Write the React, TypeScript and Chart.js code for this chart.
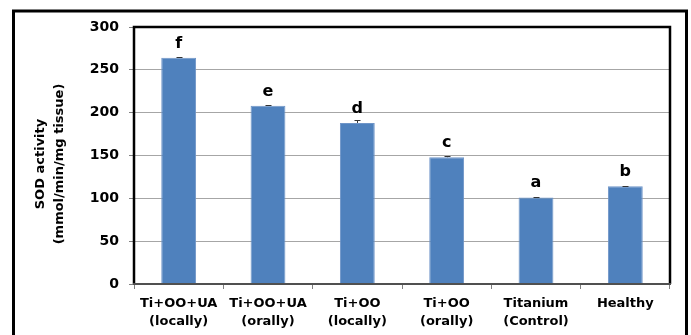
import React, { useEffect, useRef } from "react";
import { Chart, registerables } from "chart.js";

Chart.register(...registerables);

const categories: string[][] = [
  ["Ti+OO+UA", "(locally)"],
  ["Ti+OO+UA", "(orally)"],
  ["Ti+OO", "(locally)"],
  ["Ti+OO", "(orally)"],
  ["Titanium", "(Control)"],
  ["Healthy"],
];
const sodValues: number[] = [264, 208, 188, 148, 101, 114];
const sodErrors: number[] = [1.5, 1, 3, 1.5, 0.8, 0.8];
const letters: string[] = ["f", "e", "d", "c", "a", "b"];
const yTitleLines: string[] = ["SOD activity", "(mmol/min/mg tissue)"];
const yMin = 0;
const yMax = 300;
const yStep = 50;

const FONT = "'DejaVu Sans', sans-serif";

const decorPlugin = {
  id: "decor",
  beforeDraw(chart: any) {
    const ctx = chart.ctx;
    ctx.save();
    ctx.fillStyle = "#ffffff";
    ctx.fillRect(0, 0, chart.width, chart.height);
    ctx.restore();
  },
  afterDatasetsDraw(chart: any) {
    const ctx = chart.ctx;
    const meta = chart.getDatasetMeta(0);
    const y = chart.scales.y;
    ctx.save();
    // error bars
    ctx.strokeStyle = "#333333";
    ctx.lineWidth = 1;
    meta.data.forEach((bar: any, i: number) => {
      const v = sodValues[i];
      const e = sodErrors[i];
      const yt = Math.round(y.getPixelForValue(v + e)) + 0.5;
      const yb = y.getPixelForValue(v);
      const x = Math.round(bar.x) + 0.5;
      ctx.beginPath();
      ctx.moveTo(x, yb);
      ctx.lineTo(x, yt);
      ctx.moveTo(x - 3, yt);
      ctx.lineTo(x + 3, yt);
      ctx.stroke();
    });
    // letters
    ctx.fillStyle = "#000000";
    ctx.font = `bold 16px ${FONT}`;
    ctx.textAlign = "center";
    ctx.textBaseline = "alphabetic";
    meta.data.forEach((bar: any, i: number) => {
      const yt = y.getPixelForValue(sodValues[i]);
      ctx.fillText(letters[i], bar.x, yt - 10);
    });
    ctx.restore();
  },
  afterDraw(chart: any) {
    const ctx = chart.ctx;
    const a = chart.chartArea;
    ctx.save();
    // plot frame
    ctx.strokeStyle = "#000000";
    ctx.lineWidth = 2.5;
    ctx.beginPath();
    ctx.moveTo(a.left, a.bottom);
    ctx.lineTo(a.left, a.top);
    ctx.lineTo(a.right, a.top);
    ctx.lineTo(a.right, a.bottom);
    ctx.stroke();
    ctx.strokeStyle = "#505050";
    ctx.lineWidth = 2;
    ctx.beginPath();
    ctx.moveTo(a.left - 1, a.bottom);
    ctx.lineTo(a.right + 1, a.bottom);
    ctx.stroke();
    // outer frame
    ctx.strokeStyle = "#000000";
    ctx.lineWidth = 3;
    ctx.strokeRect(13.5, 11, 673, 340);
    // y title
    ctx.fillStyle = "#000000";
    ctx.font = `bold 13px ${FONT}`;
    ctx.textAlign = "center";
    ctx.textBaseline = "middle";
    const cy = 164;
    const xs = [41, 60];
    yTitleLines.forEach((t, i) => {
      ctx.save();
      ctx.translate(xs[i], cy);
      ctx.rotate(-Math.PI / 2);
      ctx.fillText(t, 0, 0);
      ctx.restore();
    });
    ctx.restore();
  },
};

export default function App() {
  const ref = useRef<HTMLCanvasElement | null>(null);
  useEffect(() => {
    if (!ref.current) return;
    const chart = new Chart(ref.current, {
      type: "bar",
      data: {
        labels: categories as any,
        datasets: [
          {
            data: sodValues,
            backgroundColor: "#4f81bd",
            borderColor: "#6f95c8",
            borderWidth: 1,
            barPercentage: 0.39,
            categoryPercentage: 1,
          },
        ],
      },
      options: {
        animation: false,
        responsive: false,
        maintainAspectRatio: false,
        devicePixelRatio: 1,
        layout: { padding: { left: 0, top: 27, right: 21, bottom: 0 } },
        plugins: {
          legend: { display: false },
          tooltip: { enabled: false },
          title: { display: false },
        },
        scales: {
          x: {
            afterFit: (s: any) => {
              s.height = 51;
            },
            border: { display: false },
            grid: {
              drawOnChartArea: false,
              drawTicks: true,
              tickLength: 5,
              tickColor: "#808080",
              offset: true,
            },
            ticks: {
              color: "#000000",
              font: { family: FONT, weight: "bold", size: 13, lineHeight: 1.38 },
              padding: 6,
              maxRotation: 0,
              autoSkip: false,
            },
          },
          y: {
            min: yMin,
            max: yMax,
            afterFit: (s: any) => {
              s.width = 134;
            },
            border: { display: false },
            grid: {
              color: "#a6a6a6",
              lineWidth: 1,
              drawTicks: true,
              tickLength: 5,
              tickColor: "#808080",
            },
            ticks: {
              stepSize: yStep,
              color: "#000000",
              font: { family: FONT, weight: "bold", size: 14 },
              padding: 10,
            },
          },
        },
      },
      plugins: [decorPlugin],
    });
    return () => chart.destroy();
  }, []);
  return (
    <div style={{ position: "fixed", left: 0, top: 0, width: 691, height: 335 }}>
      <canvas ref={ref} width={691} height={335} style={{ width: 691, height: 335 }} />
    </div>
  );
}
